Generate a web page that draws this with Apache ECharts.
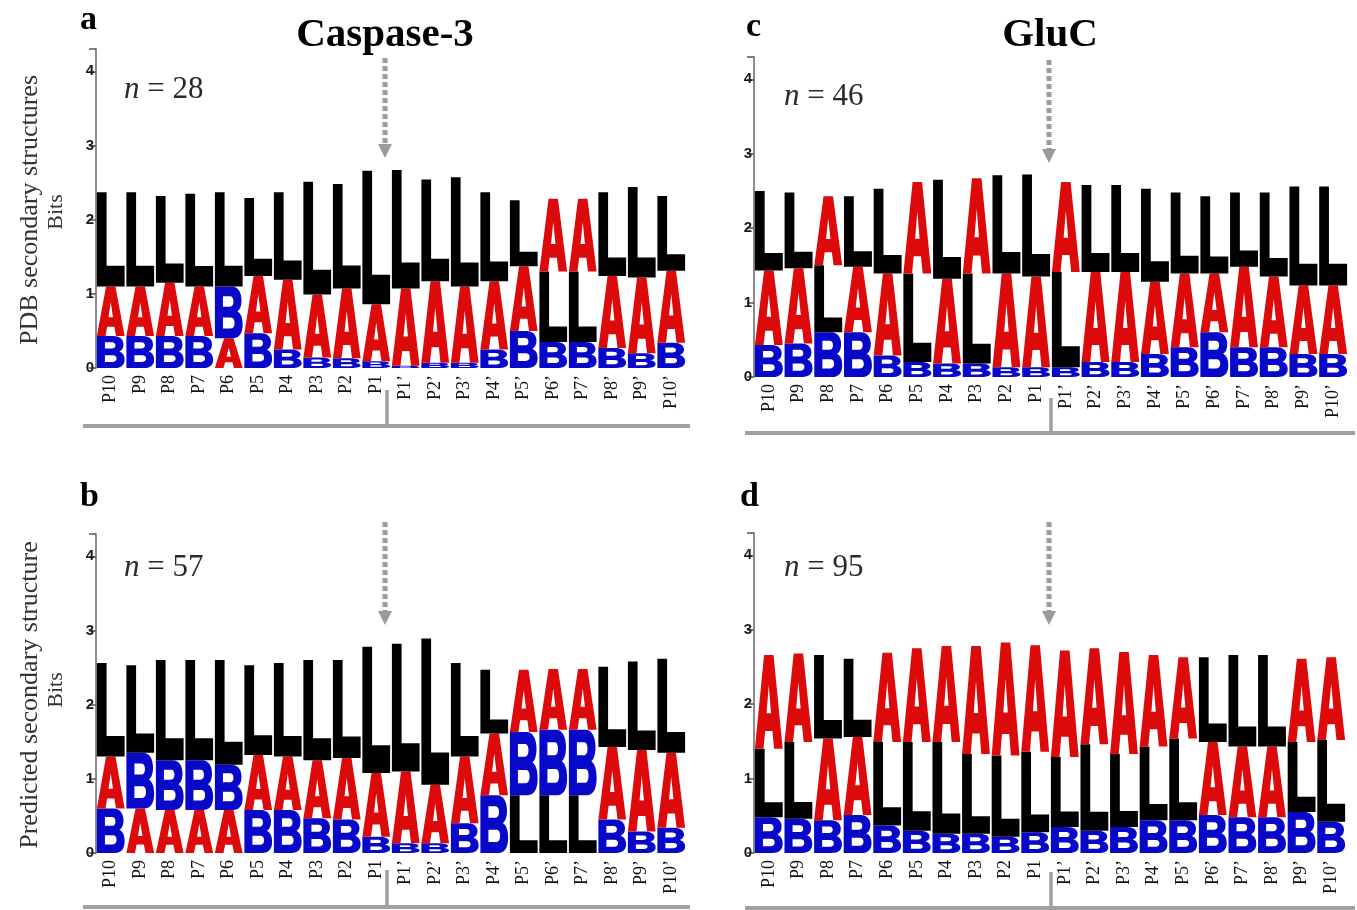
<!DOCTYPE html>
<html>
<head>
<meta charset="utf-8">
<script src="https://cdn.jsdelivr.net/npm/echarts/dist/echarts.min.js"></script>
<style>
  html, body { margin: 0; padding: 0; background: #fff; }
  #main { width: 1357px; height: 910px; }
</style>
</head>
<body>
<div id="main"></div>
<script>
// positions around the cleavage site
var positions = ['P10', 'P9', 'P8', 'P7', 'P6', 'P5', 'P4', 'P3', 'P2', 'P1',
  'P1’', 'P2’', 'P3’', 'P4’', 'P5’', 'P6’', 'P7’', 'P8’', 'P9’', 'P10’'];
var yTicks = [0, 1, 2, 3, 4];

// a: Caspase-3, PDB secondary structures (n = 28)
// stacking order bottom -> top, then letter heights in bits
var aOrder = ['BAL', 'BAL', 'BAL', 'BAL', 'ABL', 'BAL', 'BAL', 'BAL', 'BAL', 'BAL',
  'BAL', 'BAL', 'BAL', 'BAL', 'BAL', 'BLA', 'BLA', 'BAL', 'BAL', 'BAL'];
var aA = [0.67, 0.67, 0.72, 0.67, 0.40, 0.77, 0.94, 0.85, 0.94, 0.77,
  1.04, 1.10, 1.03, 0.92, 0.87, 0.98, 0.98, 0.97, 1.02, 0.97];
var aB = [0.43, 0.43, 0.43, 0.43, 0.70, 0.47, 0.25, 0.14, 0.13, 0.09,
  0.03, 0.07, 0.07, 0.25, 0.50, 0.35, 0.35, 0.27, 0.20, 0.34];
var aL = [1.27, 1.27, 1.17, 1.25, 1.27, 1.05, 1.18, 1.52, 1.41, 1.80,
  1.60, 1.37, 1.47, 1.20, 0.89, 0.95, 0.95, 1.13, 1.22, 1.01];

// b: Caspase-3, predicted secondary structure (n = 57)
var bOrder = ['BAL', 'ABL', 'ABL', 'ABL', 'ABL', 'BAL', 'BAL', 'BAL', 'BAL', 'BAL',
  'BAL', 'BAL', 'BAL', 'BAL', 'LBA', 'LBA', 'LBA', 'BAL', 'BAL', 'BAL'];
var bA = [0.70, 0.60, 0.58, 0.58, 0.58, 0.74, 0.72, 0.78, 0.83, 0.86,
  0.97, 0.79, 0.90, 0.83, 0.84, 0.82, 0.82, 0.98, 1.10, 1.01];
var bB = [0.60, 0.75, 0.67, 0.67, 0.61, 0.58, 0.58, 0.47, 0.45, 0.22,
  0.13, 0.13, 0.40, 0.78, 0.85, 0.88, 0.88, 0.45, 0.29, 0.34];
var bL = [1.26, 1.18, 1.35, 1.35, 1.41, 1.21, 1.26, 1.35, 1.32, 1.70,
  1.72, 1.97, 1.26, 0.86, 0.78, 0.78, 0.78, 1.08, 1.19, 1.27];

// c: GluC, PDB secondary structures (n = 46)
var cOrder = ['BAL', 'BAL', 'BLA', 'BAL', 'BAL', 'BLA', 'BAL', 'BLA', 'BAL', 'BAL',
  'BLA', 'BAL', 'BAL', 'BAL', 'BAL', 'BAL', 'BAL', 'BAL', 'BAL', 'BAL'];
var cA = [1.00, 1.01, 0.93, 0.88, 1.10, 1.23, 1.14, 1.28, 1.26, 1.22,
  1.21, 1.21, 1.21, 0.97, 0.99, 0.79, 1.08, 0.95, 0.92, 0.92];
var cB = [0.43, 0.45, 0.60, 0.60, 0.29, 0.20, 0.18, 0.18, 0.13, 0.13,
  0.13, 0.20, 0.20, 0.31, 0.40, 0.60, 0.40, 0.40, 0.31, 0.31];
var cL = [1.07, 1.02, 0.90, 0.95, 1.14, 1.19, 1.33, 1.21, 1.32, 1.37,
  1.28, 1.17, 1.17, 1.25, 1.09, 1.04, 1.00, 1.13, 1.33, 1.33];

// d: GluC, predicted secondary structure (n = 95)
var dOrder = ['BLA', 'BLA', 'BAL', 'BAL', 'BLA', 'BLA', 'BLA', 'BLA', 'BLA', 'BLA',
  'BLA', 'BLA', 'BLA', 'BLA', 'BLA', 'BAL', 'BAL', 'BAL', 'BLA', 'BLA'];
var dA = [1.26, 1.19, 1.10, 1.05, 1.20, 1.26, 1.29, 1.45, 1.52, 1.43,
  1.43, 1.29, 1.37, 1.23, 1.09, 0.98, 0.95, 0.95, 1.12, 1.11];
var dB = [0.48, 0.46, 0.44, 0.51, 0.37, 0.30, 0.26, 0.26, 0.22, 0.28,
  0.35, 0.30, 0.35, 0.44, 0.44, 0.51, 0.48, 0.48, 0.55, 0.42];
var dL = [0.92, 1.03, 1.12, 1.05, 1.12, 1.19, 1.23, 1.07, 1.09, 1.08,
  0.94, 1.16, 0.98, 0.99, 1.10, 1.14, 1.23, 1.23, 0.94, 1.10];

// letter shapes in a 100x100 box, stretched to fit each stack slot
var GLYPH = {
  A: 'M0,100 L33,0 L67,0 L100,100 L69,100 L63,81 L37,81 L31,100 Z M58,62 L50,32 L42,62 Z',
  B: 'M0,0 L60,0 C84,0 96,12 96,26 C96,38 90,45 81,48 C94,52 100,61 100,74 C100,90 88,100 64,100 L0,100 Z ' +
     'M29,19 L29,39 L54,39 C63,39 67,35 67,29 C67,23 63,19 54,19 Z ' +
     'M29,60 L29,81 L57,81 C67,81 71,76 71,70.5 C71,64 67,60 57,60 Z',
  L: 'M0,0 L35,0 L35,78 L100,78 L100,100 L0,100 Z'
};
var COLOR = { A: '#dc0a0a', B: '#0808c8', L: '#000000' };

var panels = [
  { order: aOrder, A: aA, B: aB, L: aL, grid: { left: 96, top: 49, width: 590, height: 319 } },
  { order: bOrder, A: bA, B: bB, L: bL, grid: { left: 96, top: 534, width: 590, height: 319 } },
  { order: cOrder, A: cA, B: cB, L: cL, grid: { left: 754, top: 57, width: 594, height: 320 } },
  { order: dOrder, A: dA, B: dB, L: dL, grid: { left: 754, top: 533, width: 592, height: 320 } }
];

function makeRender(p) {
  return function (params, api) {
    var i = api.value(0);
    var seq = p.order[i];
    var w = api.size([1, 0])[0] * 0.94;
    var cx = api.coord([i, 0])[0];
    var base = 0;
    var children = [];
    for (var k = 0; k < seq.length; k++) {
      var ch = seq[k];
      var h = p[ch][i];
      var y0 = api.coord([i, base])[1];
      var y1 = api.coord([i, base + h])[1];
      children.push({
        type: 'path',
        shape: { pathData: GLYPH[ch], x: cx - w / 2, y: y1, width: w, height: y0 - y1, layout: 'cover' },
        style: { fill: COLOR[ch] }
      });
      base += h;
    }
    return { type: 'group', children: children };
  };
}

var grids = [], xAxes = [], yAxes = [], series = [];
panels.forEach(function (p, gi) {
  grids.push(p.grid);
  xAxes.push({
    type: 'category', gridIndex: gi, data: positions,
    axisLine: { show: false }, axisTick: { show: false },
    axisLabel: { interval: 0, rotate: 90, margin: 7, fontSize: 18, color: '#111', fontFamily: 'Liberation Serif' }
  });
  yAxes.push({
    type: 'value', gridIndex: gi, min: 0, max: 4.3, interval: 1,
    splitLine: { show: false },
    axisLine: { show: true, lineStyle: { color: '#8c8c8c', width: 2 } },
    axisTick: { show: true, length: 7, lineStyle: { color: '#555', width: 1.5 } },
    axisLabel: {
      margin: 2, fontSize: 15, fontWeight: 'bold', color: '#1a1a1a', fontFamily: 'Liberation Sans',
      formatter: function (v) { return yTicks.indexOf(v) >= 0 ? String(v) : ''; }
    }
  });
  series.push({
    type: 'custom', xAxisIndex: gi, yAxisIndex: gi,
    data: positions.map(function (c, i) { return [i]; }),
    encode: { x: 0 },
    renderItem: makeRender(p),
    silent: true
  });
});

function txt(x, y, text, font, opts) {
  opts = opts || {};
  return {
    type: 'text', x: x, y: y, rotation: opts.rot || 0, silent: true,
    style: {
      text: text, font: font, fill: opts.fill || '#000',
      align: opts.align || 'left', verticalAlign: 'middle', rich: opts.rich
    }
  };
}
function nLabel(x, y, n) {
  return txt(x, y, '{i|n} = ' + n, '31px "Liberation Serif"', {
    fill: '#2a2a2a', rich: { i: { font: 'italic 31px "Liberation Serif"', fill: '#2a2a2a' } }
  });
}
function arrow(x, y0, y1) {
  return [
    { type: 'line', silent: true, shape: { x1: x, y1: y0, x2: x, y2: y1 - 12 },
      style: { stroke: '#9a9a9a', lineWidth: 5, lineDash: [5, 3] } },
    { type: 'polygon', silent: true, shape: { points: [[x - 7, y1 - 14], [x + 7, y1 - 14], [x, y1]] },
      style: { fill: '#9a9a9a' } }
  ];
}
function bracket(x0, x1, y, sx, sy) {
  return [
    { type: 'line', silent: true, shape: { x1: x0, y1: y, x2: x1, y2: y }, style: { stroke: '#a0a0a0', lineWidth: 4 } },
    { type: 'line', silent: true, shape: { x1: sx, y1: sy, x2: sx, y2: y }, style: { stroke: '#a0a0a0', lineWidth: 3.5 } }
  ];
}

var graphics = [
  txt(80, 20, 'a', 'bold 34px "Liberation Serif"'),
  txt(80, 497, 'b', 'bold 34px "Liberation Serif"'),
  txt(746, 27, 'c', 'bold 34px "Liberation Serif"'),
  txt(740, 497, 'd', 'bold 34px "Liberation Serif"'),
  txt(385, 35, 'Caspase-3', 'bold 41px "Liberation Serif"', { align: 'center' }),
  txt(1050, 35, 'GluC', 'bold 41px "Liberation Serif"', { align: 'center' }),
  txt(30, 210, 'PDB secondary structures', '26px "Liberation Serif"', { align: 'center', rot: Math.PI / 2, fill: '#333' }),
  txt(56, 212, 'Bits', '22px "Liberation Serif"', { align: 'center', rot: Math.PI / 2, fill: '#333' }),
  txt(30, 695, 'Predicted secondary structure', '26px "Liberation Serif"', { align: 'center', rot: Math.PI / 2, fill: '#333' }),
  txt(56, 690, 'Bits', '22px "Liberation Serif"', { align: 'center', rot: Math.PI / 2, fill: '#333' }),
  nLabel(124, 90, 28),
  nLabel(784, 97, 46),
  nLabel(124, 568, 57),
  nLabel(784, 568, 95)
].concat(arrow(385, 58, 158), arrow(1049, 60, 163), arrow(385, 522, 625), arrow(1049, 522, 625),
  bracket(83, 690, 426, 387, 390), bracket(745, 1355, 433, 1051, 398),
  bracket(83, 690, 907, 387, 870), bracket(745, 1355, 908, 1051, 872));

var chart = echarts.init(document.getElementById('main'), null, { renderer: 'canvas' });
chart.setOption({
  backgroundColor: '#fff',
  animation: false,
  grid: grids,
  xAxis: xAxes,
  yAxis: yAxes,
  series: series,
  graphic: graphics
});
</script>
</body>
</html>
